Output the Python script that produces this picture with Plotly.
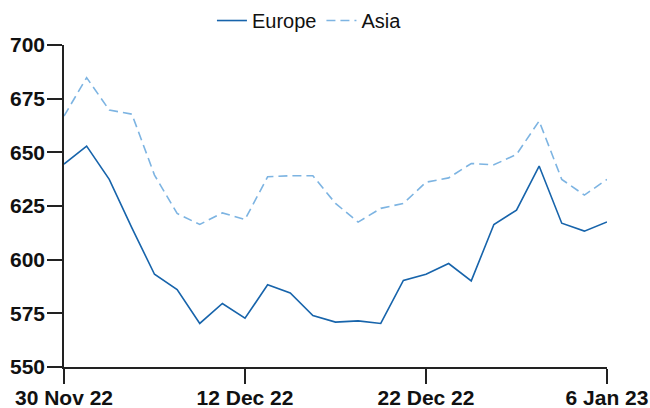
import plotly.graph_objects as go

dates = ["30 Nov 22", "1 Dec 22", "2 Dec 22", "5 Dec 22", "6 Dec 22", "7 Dec 22",
         "8 Dec 22", "9 Dec 22", "12 Dec 22", "13 Dec 22", "14 Dec 22", "15 Dec 22",
         "16 Dec 22", "19 Dec 22", "20 Dec 22", "21 Dec 22", "22 Dec 22", "23 Dec 22",
         "28 Dec 22", "29 Dec 22", "30 Dec 22", "3 Jan 23", "4 Jan 23", "5 Jan 23",
         "6 Jan 23"]
europe = [644.5, 652.9, 637.4, 614.8, 593.2, 586.1, 570.3, 579.6, 572.7, 588.3,
          584.5, 574.0, 570.9, 571.5, 570.3, 590.3, 593.2, 598.2, 590.1, 616.4,
          623.1, 643.6, 617.0, 613.3, 617.6]
asia = [666.9, 684.8, 669.7, 667.8, 639.4, 621.5, 616.4, 621.8, 618.7, 638.6,
        639.1, 639.1, 626.2, 617.5, 623.9, 626.2, 636.1, 638.1, 644.8, 644.2,
        649.0, 664.6, 637.4, 630.1, 637.4]
tick_dates = ["30 Nov 22", "12 Dec 22", "22 Dec 22", "6 Jan 23"]
y_ticks = [550, 575, 600, 625, 650, 675, 700]

FONT = "Liberation Sans"

fig = go.Figure()
fig.add_trace(go.Scatter(x=dates, y=europe, name="Europe", mode="lines",
                         line=dict(color="#1764ab", width=1.6)))
fig.add_trace(go.Scatter(x=dates, y=asia, name="Asia", mode="lines",
                         line=dict(color="#7db4e2", width=1.6, dash="9px,5px")))

fig.update_layout(
    width=650, height=408,
    margin=dict(l=64, r=43, t=45, b=41, autoexpand=False),
    paper_bgcolor="white", plot_bgcolor="white",
    font=dict(family=FONT, color="#111111"),
    legend=dict(orientation="h", x=0.452, xanchor="center", y=1.076, yanchor="middle",
                font=dict(family=FONT, size=20, color="#111111"),
                itemwidth=30, tracegroupgap=0),
    xaxis=dict(type="category", range=[0, len(dates) - 1], automargin=False,
               tickmode="array", tickvals=tick_dates, ticktext=tick_dates,
               showgrid=False, zeroline=False,
               showline=True, linecolor="#222222", linewidth=1.5,
               ticks="outside", ticklen=15, tickwidth=1.5, tickcolor="#222222",
               ticklabelstandoff=-4,
               tickfont=dict(family=FONT, size=21, color="#111111", weight="bold")),
    yaxis=dict(range=[550, 700], tickmode="array", tickvals=y_ticks, automargin=False,
               showgrid=False, zeroline=False,
               showline=True, linecolor="#222222", linewidth=1.5,
               ticks="outside", ticklen=15, tickwidth=1.5, tickcolor="#222222",
               ticklabelstandoff=-2,
               tickfont=dict(family=FONT, size=21, color="#111111", weight="bold")),
)

fig.write_html("out.html", config={"displayModeBar": False},
               post_script="document.body.style.margin='0';document.body.style.overflow='hidden';")
